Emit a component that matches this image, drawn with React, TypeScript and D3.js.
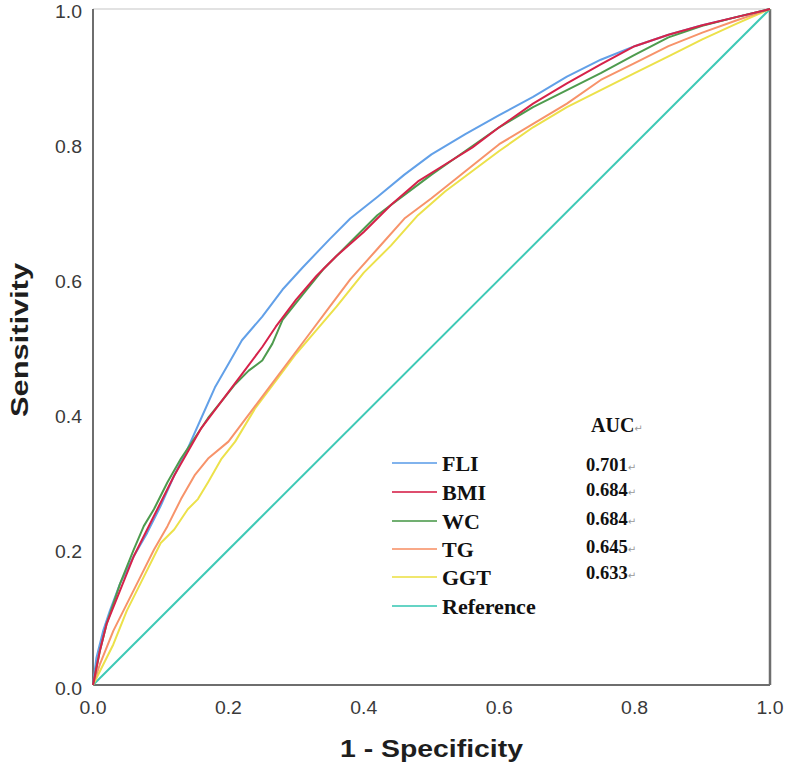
import React from "react";
import * as d3 from "d3";

const fliX = [0, 0.005, 0.015, 0.025, 0.04, 0.06, 0.08, 0.10, 0.12, 0.14, 0.16, 0.18, 0.20, 0.22, 0.25, 0.28, 0.31, 0.35, 0.38, 0.42, 0.46, 0.50, 0.55, 0.60, 0.65, 0.70, 0.75, 0.80, 0.85, 0.90, 0.95, 1.0];
const fliY = [0, 0.04, 0.08, 0.11, 0.15, 0.19, 0.225, 0.265, 0.31, 0.35, 0.395, 0.44, 0.475, 0.51, 0.545, 0.585, 0.618, 0.66, 0.69, 0.722, 0.755, 0.785, 0.815, 0.843, 0.87, 0.90, 0.925, 0.945, 0.962, 0.976, 0.988, 1.0];

const bmiX = [0, 0.01, 0.02, 0.04, 0.06, 0.08, 0.10, 0.12, 0.14, 0.16, 0.19, 0.22, 0.25, 0.27, 0.30, 0.33, 0.36, 0.40, 0.44, 0.48, 0.52, 0.56, 0.60, 0.65, 0.70, 0.75, 0.80, 0.85, 0.90, 0.95, 1.0];
const bmiY = [0, 0.05, 0.09, 0.14, 0.19, 0.23, 0.27, 0.31, 0.345, 0.38, 0.42, 0.46, 0.50, 0.53, 0.57, 0.605, 0.635, 0.67, 0.71, 0.745, 0.77, 0.795, 0.825, 0.86, 0.89, 0.918, 0.945, 0.962, 0.976, 0.988, 1.0];

const wcX = [0, 0.01, 0.02, 0.04, 0.06, 0.075, 0.09, 0.11, 0.13, 0.15, 0.17, 0.19, 0.21, 0.23, 0.25, 0.265, 0.28, 0.31, 0.34, 0.38, 0.42, 0.46, 0.50, 0.55, 0.60, 0.65, 0.70, 0.75, 0.80, 0.85, 0.90, 0.95, 1.0];
const wcY = [0, 0.05, 0.09, 0.15, 0.20, 0.235, 0.26, 0.30, 0.335, 0.365, 0.395, 0.42, 0.445, 0.465, 0.48, 0.505, 0.54, 0.578, 0.615, 0.655, 0.695, 0.725, 0.755, 0.79, 0.825, 0.855, 0.88, 0.905, 0.932, 0.958, 0.975, 0.988, 1.0];

const tgX = [0, 0.01, 0.03, 0.05, 0.07, 0.09, 0.11, 0.13, 0.15, 0.17, 0.20, 0.23, 0.26, 0.29, 0.32, 0.35, 0.38, 0.42, 0.46, 0.50, 0.55, 0.60, 0.65, 0.70, 0.75, 0.80, 0.85, 0.90, 0.95, 1.0];
const tgY = [0, 0.03, 0.08, 0.12, 0.16, 0.20, 0.235, 0.275, 0.31, 0.335, 0.36, 0.40, 0.44, 0.48, 0.52, 0.56, 0.60, 0.645, 0.69, 0.72, 0.76, 0.80, 0.83, 0.86, 0.895, 0.92, 0.945, 0.965, 0.983, 1.0];

const ggtX = [0, 0.01, 0.03, 0.05, 0.07, 0.09, 0.10, 0.12, 0.14, 0.155, 0.17, 0.19, 0.21, 0.24, 0.27, 0.30, 0.33, 0.36, 0.40, 0.44, 0.48, 0.52, 0.56, 0.60, 0.65, 0.70, 0.75, 0.80, 0.85, 0.90, 0.95, 1.0];
const ggtY = [0, 0.02, 0.06, 0.11, 0.15, 0.19, 0.21, 0.23, 0.26, 0.275, 0.30, 0.335, 0.36, 0.41, 0.45, 0.49, 0.525, 0.56, 0.61, 0.65, 0.695, 0.73, 0.76, 0.79, 0.825, 0.855, 0.88, 0.905, 0.93, 0.955, 0.978, 1.0];

const refX = [0, 1];
const refY = [0, 1];

const seriesNames = ["FLI", "BMI", "WC", "TG", "GGT", "Reference"];
const aucValues = ["0.701", "0.684", "0.684", "0.645", "0.633"];
const tickValues = [0, 0.2, 0.4, 0.6, 0.8, 1.0];

const colors = ["#62a0e8", "#d6224a", "#4e9b4e", "#f7936a", "#ece14a", "#3ec9b6"];

export default function App() {
  const W = 787, H = 767;
  const x0 = 93, x1 = 770, y0 = 685, y1 = 9;
  const x = d3.scaleLinear().domain([0, 1]).range([x0, x1]);
  const y = d3.scaleLinear().domain([0, 1]).range([y0, y1]);
  const line = d3.line<[number, number]>().x(d => x(d[0])).y(d => y(d[1]));
  const zip = (a: number[], b: number[]) => a.map((v, i) => [v, b[i]] as [number, number]);
  const series = [
    zip(fliX, fliY), zip(bmiX, bmiY), zip(wcX, wcY), zip(tgX, tgY), zip(ggtX, ggtY), zip(refX, refY),
  ];
  const drawOrder = [5, 4, 3, 0, 2, 1];
  const legendY = [463, 492, 521, 549, 577, 606];
  const aucY = [465, 490, 519, 547, 573];
  const arrow = (
    <tspan fontFamily="DejaVu Sans" fontSize={10} fontWeight="normal" fill="#999">↵</tspan>
  );
  const tickFont = { fontFamily: "Liberation Sans, Arial", fontSize: 17.5, fill: "#3a3a3a" };
  return (
    <svg width={W} height={H} style={{ position: "absolute", left: 0, top: 0, background: "#fff" }}>
      <rect x={0} y={0} width={W} height={H} fill="#fff" />
      {/* frame */}
      <line x1={x0} y1={y1} x2={x1} y2={y1} stroke="#d9d9d9" strokeWidth={1.5} />
      <line x1={x0} y1={y1} x2={x0} y2={y0} stroke="#6e6e6e" strokeWidth={2} />
      <line x1={x0} y1={y0} x2={x1} y2={y0} stroke="#6e6e6e" strokeWidth={2} />
      <line x1={x1} y1={y1} x2={x1} y2={y0} stroke="#6e6e6e" strokeWidth={2.5} />
      {/* ticks */}
      {tickValues.map(t => (
        <text key={"y" + t} x={82} y={y(t) + (t === 0 ? 4 : 2.5)} dy="0.35em" textAnchor="end" textLength={27} lengthAdjust="spacingAndGlyphs" {...tickFont}>
          {t.toFixed(1)}
        </text>
      ))}
      {tickValues.map(t => (
        <text key={"x" + t} x={x(t)} y={708} dy="0.35em" textAnchor="middle" textLength={27} lengthAdjust="spacingAndGlyphs" {...tickFont}>
          {t.toFixed(1)}
        </text>
      ))}
      <text x={(x0 + x1) / 2} y={757} textAnchor="middle" textLength={183} lengthAdjust="spacingAndGlyphs" fontFamily="Liberation Sans, Arial" fontWeight="bold" fontSize={24} fill="#1e1e1e">
        1 - Specificity
      </text>
      <text transform={`translate(28,340) rotate(-90)`} textAnchor="middle" textLength={154} lengthAdjust="spacingAndGlyphs" fontFamily="Liberation Sans, Arial" fontWeight="bold" fontSize={24} fill="#1e1e1e">
        Sensitivity
      </text>
      {/* curves */}
      {drawOrder.map(i => (
        <path key={i} d={line(series[i]) || ""} fill="none" stroke={colors[i]} strokeWidth={2} strokeLinejoin="round" />
      ))}
      {/* legend */}
      {seriesNames.map((n, i) => (
        <g key={n}>
          <line x1={392} x2={437} y1={legendY[i]} y2={legendY[i]} stroke={colors[i]} strokeOpacity={0.8} strokeWidth={2.2} />
          <text x={442} y={legendY[i]} dy="0.35em" fontFamily="Liberation Serif, Times New Roman" fontWeight="bold" fontSize={22} fill="#111">
            {n}
          </text>
        </g>
      ))}
      <text x={591} y={425} dy="0.35em" fontFamily="Liberation Serif, Times New Roman" fontWeight="bold" fontSize={20} fill="#111">
        AUC{arrow}
      </text>
      {aucValues.map((v, i) => (
        <text key={i} x={586} y={aucY[i]} dy="0.35em" fontFamily="Liberation Serif, Times New Roman" fontWeight="bold" fontSize={18.5} fill="#111">
          {v}{arrow}
        </text>
      ))}
    </svg>
  );
}
